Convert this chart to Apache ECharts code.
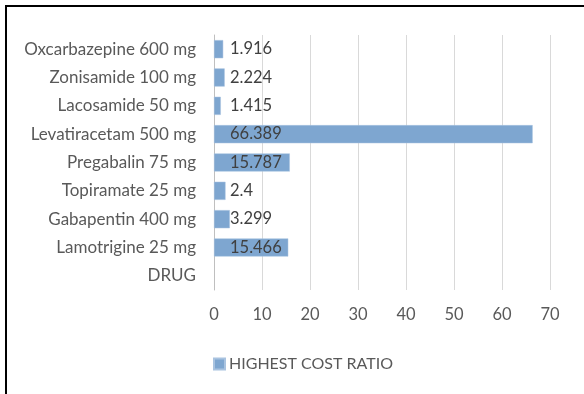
<!DOCTYPE html>
<html>
<head>
<meta charset="utf-8">
<script src="https://cdn.jsdelivr.net/npm/echarts@6/dist/echarts.min.js"></script>
<style>
  html, body { margin: 0; padding: 0; background: #fff; }
  #chart { width: 584px; height: 394px; }
</style>
</head>
<body>
<div id="chart"></div>
<script>
// Drug names, bottom to top as they appear on the category axis
const drugs = [
  'DRUG',
  'Lamotrigine 25 mg',
  'Gabapentin 400 mg',
  'Topiramate 25 mg',
  'Pregabalin 75 mg',
  'Levatiracetam 500 mg',
  'Lacosamide 50 mg',
  'Zonisamide 100 mg',
  'Oxcarbazepine 600 mg'
];
// Highest cost ratio per drug (the header row has no value)
const highestCostRatio = [null, 15.466, 3.299, 2.4, 15.787, 66.389, 1.415, 2.224, 1.916];
const seriesName = 'HIGHEST COST RATIO';
const xTicks = { min: 0, max: 70, step: 10 };

const FONT = 'Lato, "Open Sans", sans-serif';
const chart = echarts.init(document.getElementById('chart'), null, { renderer: 'canvas' });

chart.setOption({
  animation: false,
  backgroundColor: '#ffffff',
  textStyle: { fontFamily: FONT },
  graphic: [
    // frame lines along the top and left edges
    { type: 'rect', shape: { x: 5, y: 5, width: 2, height: 389 }, style: { fill: '#000' } },
    { type: 'rect', shape: { x: 5, y: 5, width: 579, height: 2 }, style: { fill: '#000' } }
  ],
  grid: { left: 214, right: 34, top: 35, bottom: 104 },
  legend: {
    data: [seriesName],
    left: 208,
    top: 351,
    itemWidth: 11,
    itemHeight: 11,
    itemGap: 4,
    icon: 'rect',
    textStyle: { color: '#595959', fontSize: 16, fontFamily: FONT, padding: [0, 0, 0, -1] }
  },
  xAxis: {
    type: 'value',
    min: xTicks.min,
    max: xTicks.max,
    interval: xTicks.step,
    axisLine: { show: false },
    axisTick: { show: false },
    splitLine: { lineStyle: { color: '#d9d9d9', width: 1 } },
    axisLabel: { color: '#595959', fontSize: 16.5, margin: 16, fontFamily: FONT }
  },
  yAxis: {
    type: 'category',
    data: drugs,
    axisLine: { lineStyle: { color: '#bfbfbf', width: 1 } },
    axisTick: { show: false },
    axisLabel: { color: '#595959', fontSize: 17, margin: 18, fontFamily: FONT }
  },
  series: [{
    name: seriesName,
    type: 'bar',
    data: highestCostRatio,
    barCategoryGap: '36%',
    itemStyle: { color: '#7ea6d0', borderColor: '#a9c3e0', borderWidth: 0.5 },
    label: {
      show: true,
      position: 'insideLeft',
      distance: 16,
      color: '#404040',
      fontSize: 16.5,
      fontFamily: FONT,
      formatter: p => (p.value == null ? '' : String(p.value))
    }
  }]
});
</script>
</body>
</html>
